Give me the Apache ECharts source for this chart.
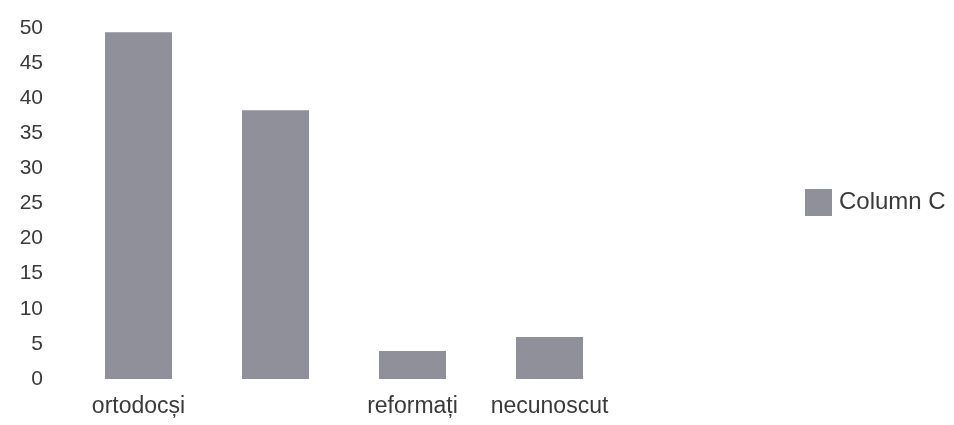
<!DOCTYPE html>
<html>
<head>
<meta charset="utf-8">
<script src="https://cdn.jsdelivr.net/npm/echarts@6/dist/echarts.min.js"></script>
<style>html,body{margin:0;padding:0;background:#fff}#c{width:954px;height:425px}</style>
</head>
<body>
<div id="c"></div>
<script>
const categories = ['ortodocși', '', 'reformați', 'necunoscut'];
const columnC = [49.4, 38.3, 4, 6];
const yTicks = { min: 0, max: 50, interval: 5 };
const seriesName = 'Column C';

const chart = echarts.init(document.getElementById('c'));
chart.setOption({
  animation: false,
  backgroundColor: '#ffffff',
  textStyle: { fontFamily: 'Liberation Sans, Arial, sans-serif' },
  grid: { left: 70, right: 336, top: 28, bottom: 46, containLabel: false },
  legend: {
    data: [seriesName],
    orient: 'vertical',
    left: 800, top: 184,
    itemWidth: 27, itemHeight: 27, itemGap: 8,
    icon: 'rect',
    textStyle: { fontSize: 24, color: '#3a3a3a', fontFamily: 'Liberation Sans, Arial, sans-serif', padding: [0, 0, 0, 2] }
  },
  xAxis: {
    type: 'category',
    data: categories,
    axisLine: { show: false },
    axisTick: { show: false },
    axisLabel: { fontSize: 23, color: '#3a3a3a', margin: 16, interval: 0 }
  },
  yAxis: {
    type: 'value',
    min: yTicks.min, max: yTicks.max, interval: yTicks.interval,
    axisLine: { show: false },
    axisTick: { show: false },
    splitLine: { show: false },
    axisLabel: { fontSize: 21, color: '#3a3a3a', margin: 27 }
  },
  series: [{
    name: seriesName,
    type: 'bar',
    data: columnC,
    barWidth: 67,
    itemStyle: { color: '#8f909a' }
  }]
});
</script>
</body>
</html>
